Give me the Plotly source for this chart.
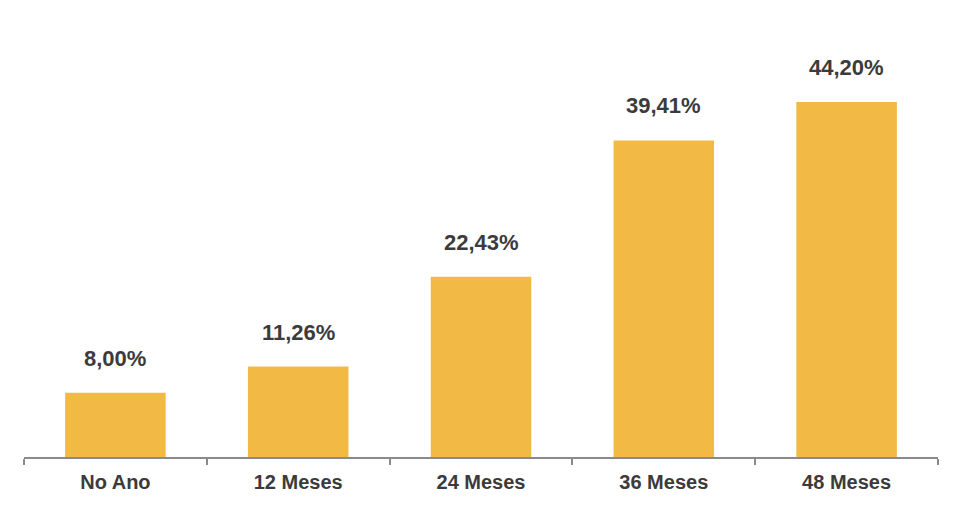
import plotly.graph_objects as go

# Dados do gráfico
categorias = ["No Ano", "12 Meses", "24 Meses", "36 Meses", "48 Meses"]
valores = [8.00, 11.26, 22.43, 39.41, 44.20]
rotulos = ["8,00%", "11,26%", "22,43%", "39,41%", "44,20%"]

COR_BARRA = "#F2B944"
COR_TEXTO = "#3B3B3B"

fig = go.Figure()

fig.add_trace(go.Bar(
    x=categorias,
    y=valores,
    marker=dict(color=COR_BARRA, line=dict(width=0)),
    width=0.55,
    hoverinfo="skip",
))

# Rótulos acima das barras
for cat, val, txt in zip(categorias, valores, rotulos):
    fig.add_annotation(
        x=cat, y=val,
        text=f"<b>{txt}</b>",
        showarrow=False,
        yanchor="bottom",
        yshift=20,
        font=dict(family="Liberation Sans, Arial", size=22, color=COR_TEXTO),
    )

fig.update_layout(
    width=960,
    height=513,
    margin=dict(l=16, r=30, t=12, b=64),
    plot_bgcolor="white",
    paper_bgcolor="white",
    showlegend=False,
    xaxis=dict(
        showline=True,
        linecolor="#8A8A8A",
        linewidth=1.5,
        ticks="outside",
        tickson="boundaries",
        ticklen=6,
        tickcolor="#8A8A8A",
        tickwidth=1.5,
        showgrid=False,
        ticklabelstandoff=6,
        tickfont=dict(family="Liberation Sans, Arial", size=20, color=COR_TEXTO),
        tickprefix="<b>",
        ticksuffix="</b>",
    ),
    yaxis=dict(
        range=[0, 54.4],
        visible=False,
        showgrid=False,
        zeroline=False,
    ),
)

fig.write_html("out.html")
